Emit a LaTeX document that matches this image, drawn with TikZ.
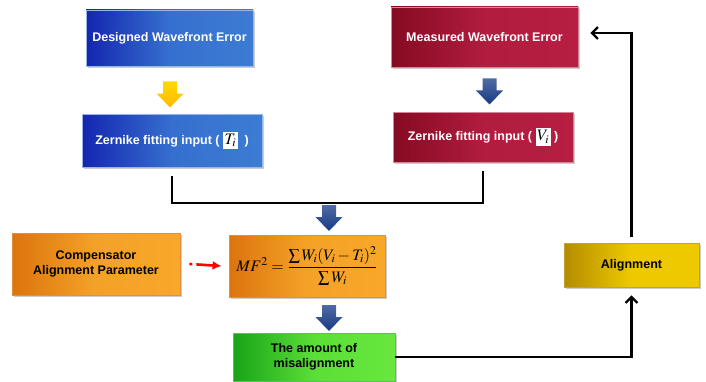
\documentclass[tikz,border=0pt]{standalone}
\usepackage{amsmath}
\usepackage{mathptmx}
\usepackage{fontspec}
\setmainfont{Liberation Sans}
\usetikzlibrary{shadows,arrows.meta}
\definecolor{bluedark}{HTML}{1426B0}
\definecolor{bluelight}{HTML}{3C7CD4}
\definecolor{reddark}{HTML}{860A22}
\definecolor{redlight}{HTML}{B61E42}
\definecolor{orangedark}{HTML}{DC740E}
\definecolor{orangelight}{HTML}{F7A72A}
\definecolor{greendark}{HTML}{17A417}
\definecolor{greenlight}{HTML}{68E83E}
\definecolor{golddark}{HTML}{B48C00}
\definecolor{goldlight}{HTML}{EEC900}
\definecolor{navy}{HTML}{163A84}
\newcommand{\inbox}[1]{{\setlength{\fboxsep}{1.5pt}%
  \colorbox{white}{\color{black}\fontsize{16}{18}\selectfont\vphantom{Ty}$#1$}}}

\begin{document}
\begin{tikzpicture}[x=1pt,y=1pt,
      every node/.style={inner sep=0pt,font=\fontsize{12.5}{15}\selectfont\bfseries},
      box/.style={draw,line width=0.8pt,align=center,
        drop shadow={shadow xshift=1.5pt,shadow yshift=-2pt,opacity=0.4}},
      bluebox/.style={box,draw=bluelight!55!white,left color=bluedark,
        right color=bluelight,middle color=bluelight!85!bluedark,text=white},
      redbox/.style={box,draw=redlight!55!white,left color=reddark,
        right color=redlight,middle color=redlight!90!reddark,text=white},
      orangebox/.style={box,draw=orangedark!80!white,left color=orangedark,
        right color=orangelight,middle color=orangelight!90!orangedark},
      greenbox/.style={box,draw=greendark!70!white,left color=greendark,
        right color=greenlight,middle color=greenlight!85!greendark},
      goldbox/.style={box,draw=golddark!80!white,left color=golddark,
        right color=goldlight,middle color=goldlight},
      fatdown/.pic={\path[pic actions] (-7,13) -- (7,13) -- (7,1) -- (13.5,1)
        -- (0,-13) -- (-13.5,1) -- (-7,1) -- cycle;},
      yellowfat/.style={top color=yellow!70!orange,bottom color=orange!55!yellow},
      bluefat/.style={top color=navy!75!white,bottom color=navy},
      link/.style={line width=2.2pt,-{Straight Barb[length=6pt,width=12pt]}}
    ]
      \useasboundingbox (0,0) rectangle (706,381);
      % boxes
      \node[bluebox,minimum width=167pt,minimum height=56pt] (designed) at (169.5,343)
        {Designed Wavefront Error};
      \node[bluebox,minimum width=180pt,minimum height=53pt] (fitT) at (172,240.5)
        {Zernike fitting input (\ \inbox{T_i}\ \ )};
      \node[redbox,minimum width=187pt,minimum height=60pt] (measured) at (484.5,344)
        {Measured Wavefront Error};
      \node[redbox,minimum width=180pt,minimum height=50pt] (fitV) at (483,244)
        {Zernike fitting input (\ \inbox{V_i}\ )};
      \node[orangebox,minimum width=168pt,minimum height=62pt] (comp) at (96,117)
        {Compensator\\Alignment Parameter};
      \node[orangebox,minimum width=156pt,minimum height=62pt] (merit) at (307,115)
        {\mdseries\fontsize{16}{19}\selectfont
         $MF^2=\dfrac{\textstyle\sum W_i(V_i-T_i)^2}{\textstyle\sum W_i}$};
      \node[greenbox,minimum width=162pt,minimum height=48pt] (amount) at (314,24)
        {The amount of\\misalignment};
      \node[goldbox,minimum width=135pt,minimum height=44pt] (align) at (631.5,116)
        {Alignment};
      % fat arrows
      \pic[yellowfat] at (170,286.5) {fatdown};
      \pic[bluefat] at (489.5,289.5) {fatdown};
      \pic[bluefat] at (329,163) {fatdown};
      \pic[bluefat] at (329,63) {fatdown};
      % connectors
      \coordinate (bar) at (329,178);
      \draw[line width=2.2pt] ([yshift=-9pt]fitT.south) |- (bar) -| ([yshift=-9pt]fitV.south);
      \draw[red,line width=2.6pt,dash pattern=on 3pt off 4pt on 30pt,
        -{Latex[length=9pt,width=9pt]}] ([xshift=9pt]comp.east) -- ([xshift=-7pt]merit.west);
      \draw[link] (amount.east) -| ([yshift=-8pt]align.south);
      \draw[link] ([yshift=6pt]align.north) |- ([xshift=12pt,yshift=4pt]measured.east);
    \end{tikzpicture}
\end{document}
